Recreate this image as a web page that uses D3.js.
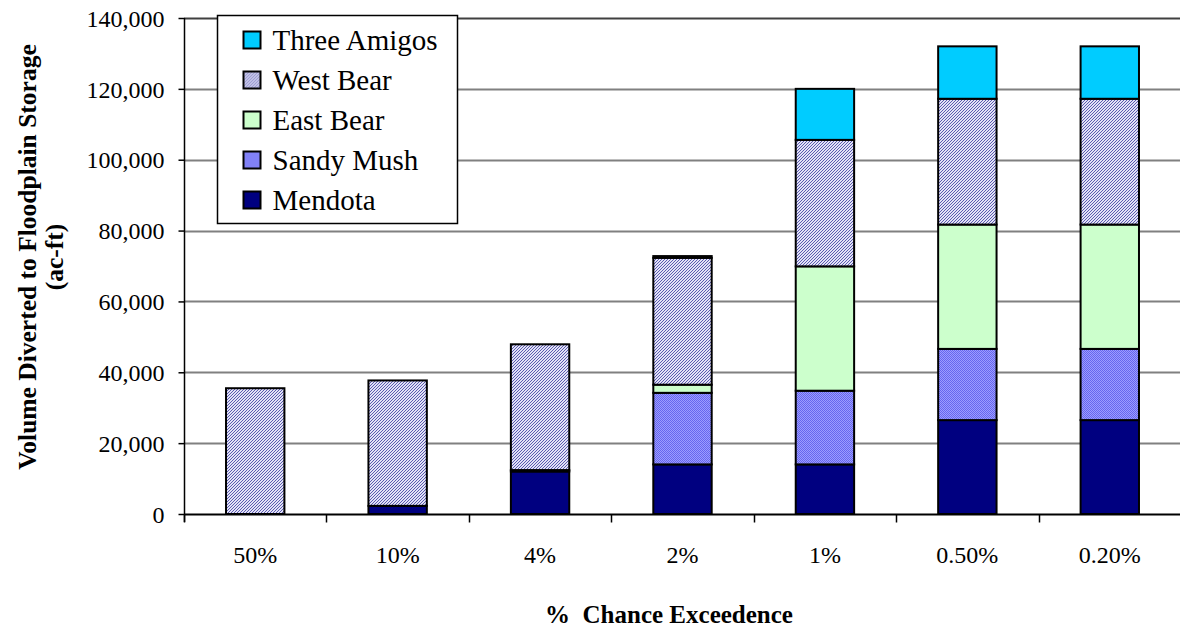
<!DOCTYPE html>
<html lang="en">
<head>
<meta charset="utf-8">
<title>Volume Diverted to Floodplain Storage</title>
<script src="https://cdn.jsdelivr.net/npm/d3@7/dist/d3.min.js"></script>
<style>
  body { margin: 0; background: #fff; }
</style>
</head>
<body>
<div id="chart"></div>
<script>
var w = 1180, h = 631;
var serif = "'Liberation Serif', serif";

// data
var categories = ["50%", "10%", "4%", "2%", "1%", "0.50%", "0.20%"];
var seriesNames = ["Mendota", "Sandy Mush", "East Bear", "West Bear", "Three Amigos"];
var mendota     = [0, 2300, 12000, 14000, 14000, 26500, 26500];
var sandyMush   = [0, 0, 400, 20200, 20800, 20100, 20100];
var eastBear    = [0, 0, 0, 2300, 35100, 35100, 35100];
var westBear    = [35500, 35400, 35500, 35800, 35700, 35500, 35500];
var threeAmigos = [0, 0, 0, 500, 14400, 14800, 14800];
var yTicks = [0, 20000, 40000, 60000, 80000, 100000, 120000, 140000];

var margin = {left: 184, right: -1, top: 18, bottom: 117};

var svg = d3.select("#chart").append("svg")
  .attr("width", w).attr("height", h)
  .attr("font-family", serif);

var defs = svg.append("defs");

// west bear: fine diagonal hatch
var pw = defs.append("pattern").attr("id", "westbear")
  .attr("width", 3).attr("height", 3).attr("patternUnits", "userSpaceOnUse");
pw.append("rect").attr("width", 3).attr("height", 3).attr("fill", "#e2e2f6");
[[0,2],[1,1],[2,0]].forEach(function(p) {
  pw.append("rect").attr("x", p[0]).attr("y", p[1]).attr("width", 1).attr("height", 1).attr("fill", "#5a5ab0");
});

// sandy mush: checker dither
var ps = defs.append("pattern").attr("id", "sandymush")
  .attr("width", 2).attr("height", 2).attr("patternUnits", "userSpaceOnUse");
ps.append("rect").attr("width", 2).attr("height", 2).attr("fill", "#9c9cff");
ps.append("rect").attr("x", 0).attr("y", 0).attr("width", 1).attr("height", 1).attr("fill", "#6666ee");
ps.append("rect").attr("x", 1).attr("y", 1).attr("width", 1).attr("height", 1).attr("fill", "#6666ee");

var fills = {
  "Mendota": "#000080",
  "Sandy Mush": "url(#sandymush)",
  "East Bear": "#ccffcc",
  "West Bear": "url(#westbear)",
  "Three Amigos": "#00ccff"
};

var table = categories.map(function(c, i) {
  return {cat: c, "Mendota": mendota[i], "Sandy Mush": sandyMush[i], "East Bear": eastBear[i],
          "West Bear": westBear[i], "Three Amigos": threeAmigos[i]};
});

var x = d3.scaleBand()
  .domain(categories)
  .range([margin.left, w - margin.right])
  .paddingInner(0.59)
  .paddingOuter(0.295);

var y = d3.scaleLinear()
  .domain([0, 140000])
  .range([h - margin.bottom, margin.top]);

// gridlines
svg.append("g").selectAll("line")
  .data(yTicks.slice(1))
  .enter().append("line")
  .attr("x1", margin.left).attr("x2", w)
  .attr("y1", function(d) { return Math.round(y(d)) + 0.5; })
  .attr("y2", function(d) { return Math.round(y(d)) + 0.5; })
  .attr("stroke", function(d) { return d === 140000 ? "#404040" : "#808080"; })
  .attr("stroke-width", 2);

// stacked bars
var stack = d3.stack().keys(seriesNames);
var layers = stack(table);

svg.append("g").selectAll("g")
  .data(layers)
  .enter().append("g")
  .attr("fill", function(d) { return fills[d.key]; })
  .selectAll("rect")
  .data(function(d) { return d; })
  .enter().append("rect")
  .attr("x", function(d) { return x(d.data.cat); })
  .attr("width", x.bandwidth())
  .attr("y", function(d) { return y(d[1]); })
  .attr("height", function(d) { return y(d[0]) - y(d[1]); })
  .attr("stroke", "#000")
  .attr("stroke-width", 2);

// y axis
var yAxis = d3.axisLeft(y)
  .tickValues(yTicks)
  .tickSize(6)
  .tickPadding(14)
  .tickFormat(d3.format(","));
var gy = svg.append("g")
  .attr("transform", "translate(" + (margin.left + 0.5) + ",0)")
  .call(yAxis)
  .attr("font-family", serif)
  .attr("font-size", 24);
gy.select(".domain").attr("d", "M0," + y(140000) + "V" + (y(0) + 8)).attr("stroke", "#000").attr("stroke-width", 1.5);
gy.selectAll(".tick line").attr("stroke", "#000").attr("stroke-width", 1.5);
gy.selectAll(".tick text").attr("fill", "#000").attr("dy", "0.34em");

// x axis line, boundary ticks
var xBase = Math.round(y(0)) + 0.5;
svg.append("line")
  .attr("x1", margin.left).attr("x2", w)
  .attr("y1", xBase).attr("y2", xBase)
  .attr("stroke", "#000").attr("stroke-width", 2);

svg.append("g").selectAll("line")
  .data(categories)
  .enter().append("line")
  .attr("x1", function(d) { return Math.round(x(d) - x.step() * 0.295) + 0.5; })
  .attr("x2", function(d) { return Math.round(x(d) - x.step() * 0.295) + 0.5; })
  .attr("y1", xBase).attr("y2", xBase + 8)
  .attr("stroke", "#000").attr("stroke-width", 1.5);

svg.append("g").selectAll("text")
  .data(categories)
  .enter().append("text")
  .attr("x", function(d) { return x(d) + x.bandwidth() / 2; })
  .attr("y", 563)
  .attr("text-anchor", "middle")
  .attr("font-family", serif)
  .attr("font-size", 24)
  .text(function(d) { return d; });

// axis titles
svg.append("text")
  .attr("x", 669).attr("y", 623)
  .attr("text-anchor", "middle")
  .attr("font-family", serif)
  .attr("font-weight", "bold")
  .attr("font-size", 25)
  .style("white-space", "pre")
  .text("%  Chance Exceedence");

var yt = svg.append("text")
  .attr("transform", "translate(36,257) rotate(-90)")
  .attr("text-anchor", "middle")
  .attr("font-family", serif)
  .attr("font-weight", "bold")
  .attr("font-size", 25.5);
yt.append("tspan").attr("x", 0).attr("dy", 0).text("Volume Diverted to Floodplain Storage");
yt.append("tspan").attr("x", 0).attr("dy", 27).text("(ac-ft)");

// legend
var legend = svg.append("g").attr("transform", "translate(217.5,15.5)");
legend.append("rect")
  .attr("width", 240).attr("height", 208)
  .attr("fill", "#fff").attr("stroke", "#000").attr("stroke-width", 1.5);

var legendItems = seriesNames.slice().reverse();
var li = legend.selectAll("g.item")
  .data(legendItems)
  .enter().append("g")
  .attr("class", "item")
  .attr("transform", function(d, i) { return "translate(0," + (24 + i * 40) + ")"; });
li.append("rect")
  .attr("x", 26).attr("y", -8)
  .attr("width", 17).attr("height", 17)
  .attr("fill", function(d) { return fills[d]; })
  .attr("stroke", "#000").attr("stroke-width", 2);
li.append("text")
  .attr("x", 55).attr("y", 10)
  .attr("font-family", serif)
  .attr("font-size", 29)
  .text(function(d) { return d; });
</script>
</body>
</html>
